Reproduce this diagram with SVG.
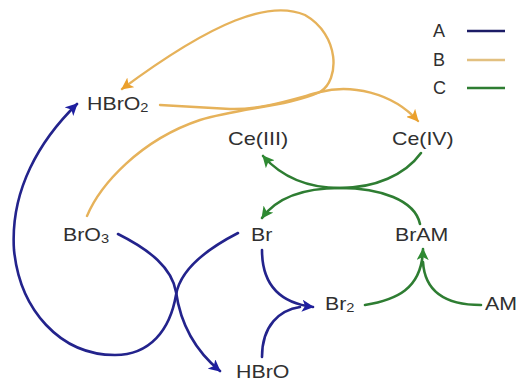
<svg xmlns="http://www.w3.org/2000/svg" width="521" height="387" viewBox="0 0 521 387">
  <style>
    .lbl { font-family: "Liberation Sans", Arial, sans-serif; font-size: 17.5px; fill: #303030; }
    .sub { font-size: 12px; }
    .leg { font-family: "Liberation Sans", Arial, sans-serif; font-size: 18px; fill: #303030; }
    .a { fill: none; stroke: #23238c; stroke-width: 2.6; stroke-linecap: round; }
    .b { fill: none; stroke: #e6b25a; stroke-width: 2.4; stroke-linecap: round; }
    .c { fill: none; stroke: #2e7d32; stroke-width: 2.6; stroke-linecap: round; }
  </style>
  <defs>
    <marker id="arrA" markerUnits="userSpaceOnUse" markerWidth="14" markerHeight="12" refX="11" refY="6" orient="auto">
      <path d="M0,0 L12,6 L0,12 L3,6 z" fill="#1f1fa0"/>
    </marker>
    <marker id="arrB" markerUnits="userSpaceOnUse" markerWidth="14" markerHeight="12" refX="11" refY="6" orient="auto">
      <path d="M0,0 L12,6 L0,12 L3,6 z" fill="#eba02c"/>
    </marker>
    <marker id="arrC" markerUnits="userSpaceOnUse" markerWidth="14" markerHeight="12" refX="11" refY="6" orient="auto">
      <path d="M0,0 L12,6 L0,12 L3,6 z" fill="#2e8a32"/>
    </marker>
  </defs>

  <rect width="521" height="387" fill="#ffffff"/>

  <!-- reaction paths -->
  <g id="connectors">
    <!-- A: BrO3 -> HBrO, Br -> HBrO2 (wide loop on the left) -->
    <path class="a" d="M118 234 C150 250 172 268 176 292 C180 320 192 348 220 371" marker-end="url(#arrA)"/>
    <path class="a" d="M238 233 C205 250 180 270 176 295 C170 330 150 355 115 355 C60 355 20 310 14 250 C10 190 40 140 77 104" marker-end="url(#arrA)"/>
    <!-- A: Br + HBrO -> Br2 -->
    <path class="a" d="M262 250 C262 285 280 303 313 307" marker-end="url(#arrA)"/>
    <path class="a" d="M262 357 C262 325 280 310 300 307"/>

    <!-- B: BrO3 + HBrO2 -> HBrO2 (loop) and Ce(III) -> Ce(IV) -->
    <path class="b" d="M87 216 C100 185 140 140 200 120 C240 108 290 106 320 92 C340 80 340 35 305 15 C270 0 215 20 122 89" marker-end="url(#arrB)"/>
    <path class="b" d="M160 105 L230 109 C260 110 290 100 320 92 C350 84 392 92 418 121" marker-end="url(#arrB)"/>

    <!-- C: Ce(IV) -> Br, BrAM -> Ce(III) -->
    <path class="c" d="M420 224 C415 200 380 188 340 188 C305 188 280 175 263 156" marker-end="url(#arrC)"/>
    <path class="c" d="M421 153 C405 175 375 188 340 188 C300 188 275 200 262 218" marker-end="url(#arrC)"/>
    <!-- C: Br2 + AM -> BrAM -->
    <path class="c" d="M365 305 C395 300 422 290 423 249" marker-end="url(#arrC)"/>
    <path class="c" d="M481 305 C450 305 425 295 423 262"/>
  </g>

  <!-- species -->
  <g id="HBrO2"><text class="lbl" transform="translate(87,110) scale(1.22,1)">HBrO<tspan class="sub" dy="2">2</tspan></text></g>
  <g id="CeIII"><text class="lbl" transform="translate(228,145) scale(1.24,1)">Ce(III)</text></g>
  <g id="CeIV"><text class="lbl" transform="translate(392,145) scale(1.22,1)">Ce(IV)</text></g>
  <g id="BrO3"><text class="lbl" transform="translate(63,241) scale(1.22,1)">BrO<tspan class="sub" dy="2">3</tspan></text></g>
  <g id="Br"><text class="lbl" transform="translate(251,241) scale(1.22,1)">Br</text></g>
  <g id="BrAM"><text class="lbl" transform="translate(395,241) scale(1.22,1)">BrAM</text></g>
  <g id="Br2"><text class="lbl" transform="translate(325,310) scale(1.22,1)">Br<tspan class="sub" dy="2">2</tspan></text></g>
  <g id="AM"><text class="lbl" transform="translate(485,310) scale(1.22,1)">AM</text></g>
  <g id="HBrO"><text class="lbl" transform="translate(236,378) scale(1.22,1)">HBrO</text></g>

  <!-- legend -->
  <g id="legend">
    <text class="leg" x="433" y="37">A</text>
    <line x1="467" y1="31" x2="505" y2="31" stroke="#1c1c66" stroke-width="2.6"/>
    <text class="leg" x="433" y="66">B</text>
    <line x1="467" y1="60" x2="505" y2="60" stroke="#e2c080" stroke-width="2.6"/>
    <text class="leg" x="433" y="94">C</text>
    <line x1="467" y1="88" x2="505" y2="88" stroke="#2e7d32" stroke-width="2.6"/>
  </g>
</svg>
